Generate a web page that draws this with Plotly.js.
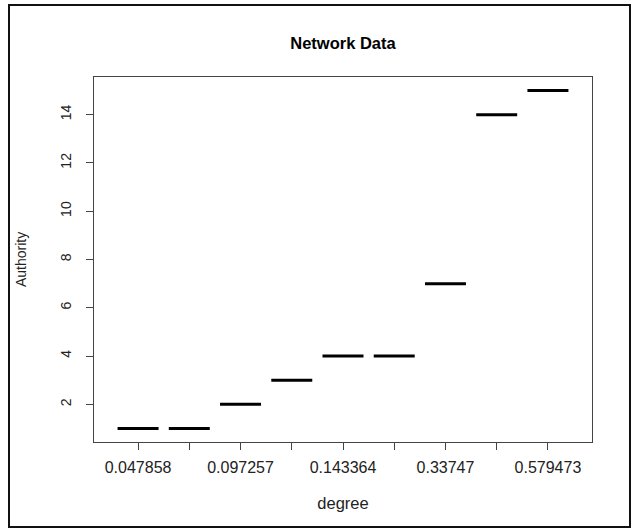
<!DOCTYPE html>
<html><head><meta charset="utf-8">
<script src="https://cdn.plot.ly/plotly-3.0.1.min.js"></script>
<style>body{margin:0;background:#fff}#chart{width:636px;height:529px}</style>
</head><body><div id="chart"></div>
<script>
// categories (factor levels of degree); unreadable (overplotted) labels left blank
const degreeLabels = ["0.047858", "", "0.097257", "", "0.143364", "", "0.33747", "", "0.579473"];
const authority = [1, 1, 2, 3, 4, 4, 7, 14, 15];
const yTicks = [2, 4, 6, 8, 10, 12, 14];

const xs = [], ys = [];
authority.forEach((v, i) => {
  const c = i + 1;
  xs.push(c - 0.4, c + 0.4, null);
  ys.push(v, v, null);
});
const positions = degreeLabels.map((_, i) => i + 1);

const traces = [{
  type: 'scatter', mode: 'lines', x: xs, y: ys,
  line: {color: '#000', width: 3}, hoverinfo: 'skip', showlegend: false
}];

const n = authority.length;
const xr = [0.5 - 0.04 * n, n + 0.5 + 0.04 * n];
const ymin = Math.min(...authority), ymax = Math.max(...authority);
const ext = (ymax - ymin) * 0.04;

const layout = {
  width: 636, height: 529,
  margin: {l: 94, r: 44, t: 77, b: 87},
  paper_bgcolor: '#fff', plot_bgcolor: '#fff',
  font: {family: 'Liberation Sans, Arial, sans-serif', color: '#222', size: 14},
  title: {text: '<b>Network Data</b>', x: 343 / 636, xanchor: 'center', y: 1 - 43 / 529, yanchor: 'middle',
          font: {size: 16.5, color: '#000'}},
  xaxis: {
    range: xr, tickmode: 'array', tickvals: positions, ticktext: degreeLabels,
    showgrid: false, zeroline: false, showline: true, mirror: true, linecolor: '#444', linewidth: 1,
    ticks: 'outside', ticklen: 7, tickcolor: '#444', tickfont: {size: 16, color: '#222'},
    ticklabelstandoff: 4,
    title: {text: 'degree', font: {size: 16.5, color: '#222'}, standoff: 22}
  },
  yaxis: {
    range: [ymin - ext, ymax + ext], tickmode: 'array', tickvals: yTicks,
    showgrid: false, zeroline: false, showline: true, mirror: true, linecolor: '#444', linewidth: 1,
    ticks: 'outside', ticklen: 7, tickcolor: '#444', tickangle: -90, tickfont: {size: 14, color: '#222'},
    ticklabelstandoff: 9,
    title: {text: 'Authority', font: {size: 14, color: '#222'}, standoff: 28}
  },
  shapes: [{
    type: 'rect', xref: 'paper', yref: 'paper', layer: 'above',
    x0: (9 - 94) / 498, x1: (630 - 94) / 498, y0: (442 - 527) / 365, y1: (442 - 5) / 365,
    line: {color: '#111', width: 2}
  }]
};

Plotly.newPlot('chart', traces, layout, {displayModeBar: false, staticPlot: true});
</script></body></html>
